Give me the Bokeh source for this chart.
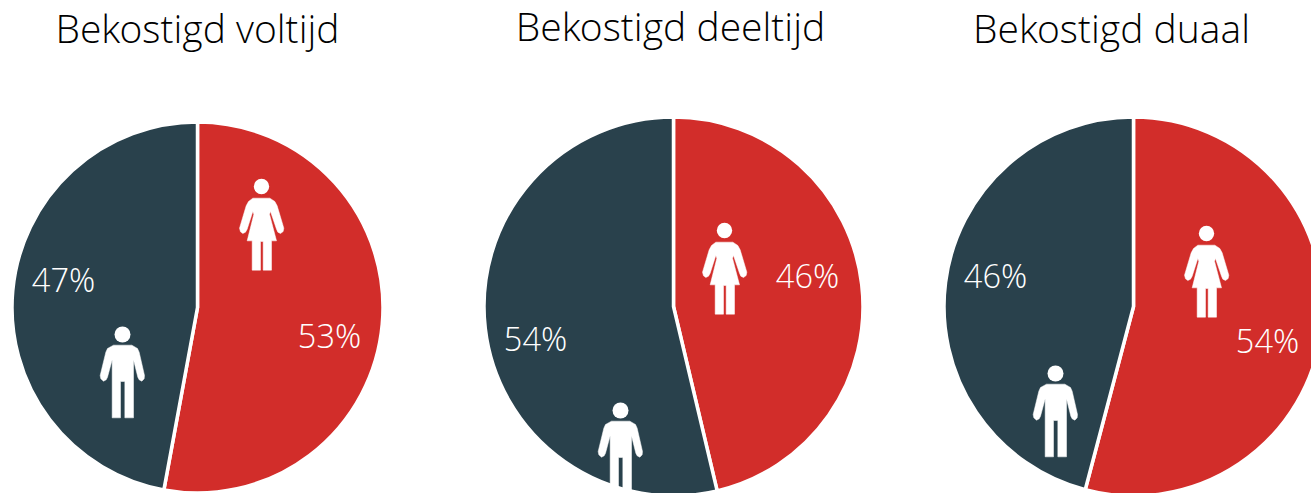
import math
from bokeh.plotting import figure
from bokeh.models import Range1d
from bokeh.core.properties import value
from bokeh.embed import file_html
from bokeh.resources import INLINE

# ---- data
titles = ["Bekostigd voltijd", "Bekostigd deeltijd", "Bekostigd duaal"]
female_share = [52.9, 46.3, 54.1]
male_share = [47.1, 53.7, 45.9]

# ---- layout, in page pixels
W, H = 1311, 493
pie_x = [197, 673, 1133]
pie_y = [307, 306, 306]
pie_r = [185.5, 189.5, 189.5]
title_x = [197, 670, 1111]
title_y = [27, 25, 27]
female_label = [(329, 335), (807, 275), (1267, 340)]
male_label = [(63, 279), (535, 338), (995, 275)]
female_head = [(261, 186), (724, 230), (1206, 233)]
male_head = [(122, 334), (620, 410), (1055, 373)]
RED = "#D22D2A"
DARK = "#29414C"
FONT = "Open Sans Light"

# icon outlines, 3x-zoom pixels relative to a reference head centre
WOMAN_HEAD = (123, 47)
WOMAN = [(97,82),(148,82),(163,92),(170,105),(190,172),(188,182),(180,188),(172,184),(168,175),
         (150,122),(147,130),(168,210),(153,210),(153,298),(128,298),(128,212),(120,212),(120,298),
         (95,298),(95,210),(80,210),(100,130),(97,122),(80,175),(75,184),(67,188),(60,183),(57,172),
         (77,105),(84,92)]
MAN_HEAD = (112, 42)
MAN = [(85,74),(140,74),(157,84),(162,95),(178,165),(177,175),(170,182),(162,178),(158,170),(145,118),
       (145,292),(119,292),(119,183),(106,183),(106,292),(81,292),(81,118),(67,170),(63,178),(55,182),
       (47,175),(45,165),(62,95),(67,84)]

p = figure(width=W, height=H, output_backend="svg", toolbar_location=None,
           x_range=Range1d(0, W), y_range=Range1d(-H, 0),
           min_border=0, outline_line_color=None)
p.axis.visible = False
p.grid.visible = False


def icon(points, ref, head, head_r):
    xs = [head[0] + (x - ref[0]) / 3 for x, _ in points]
    ys = [-(head[1] + (y - ref[1]) / 3) for _, y in points]
    p.patch(xs, ys, fill_color="white", line_color="white", line_width=0.5, line_join="round")
    p.circle([head[0]], [-head[1]], radius=head_r, fill_color="white", line_color=None)


for i in range(3):
    boundary = math.pi / 2 - 2 * math.pi * female_share[i] / (female_share[i] + male_share[i])
    p.wedge([pie_x[i]], [-pie_y[i]], radius=pie_r[i], start_angle=boundary, end_angle=math.pi / 2,
            direction="anticlock", fill_color=RED, line_color="white", line_width=3.5)
    p.wedge([pie_x[i]], [-pie_y[i]], radius=pie_r[i], start_angle=math.pi / 2, end_angle=boundary,
            direction="anticlock", fill_color=DARK, line_color="white", line_width=3.5)
    icon(WOMAN, WOMAN_HEAD, female_head[i], 7.7)
    icon(MAN, MAN_HEAD, male_head[i], 8)
    p.text([title_x[i]], [-title_y[i]], text=[titles[i]], text_font=value(FONT), text_font_size="39px",
           text_color="black", text_align="center", text_baseline="middle")
    p.text([female_label[i][0]], [-female_label[i][1]], text=[f"{round(female_share[i])}%"], text_font=value(FONT),
           text_font_size="32.5px", text_color="white", text_align="center", text_baseline="middle")
    p.text([male_label[i][0]], [-male_label[i][1]], text=[f"{round(male_share[i])}%"], text_font=value(FONT),
           text_font_size="32.5px", text_color="white", text_align="center", text_baseline="middle")

open("out.html", "w").write(file_html(p, INLINE))
